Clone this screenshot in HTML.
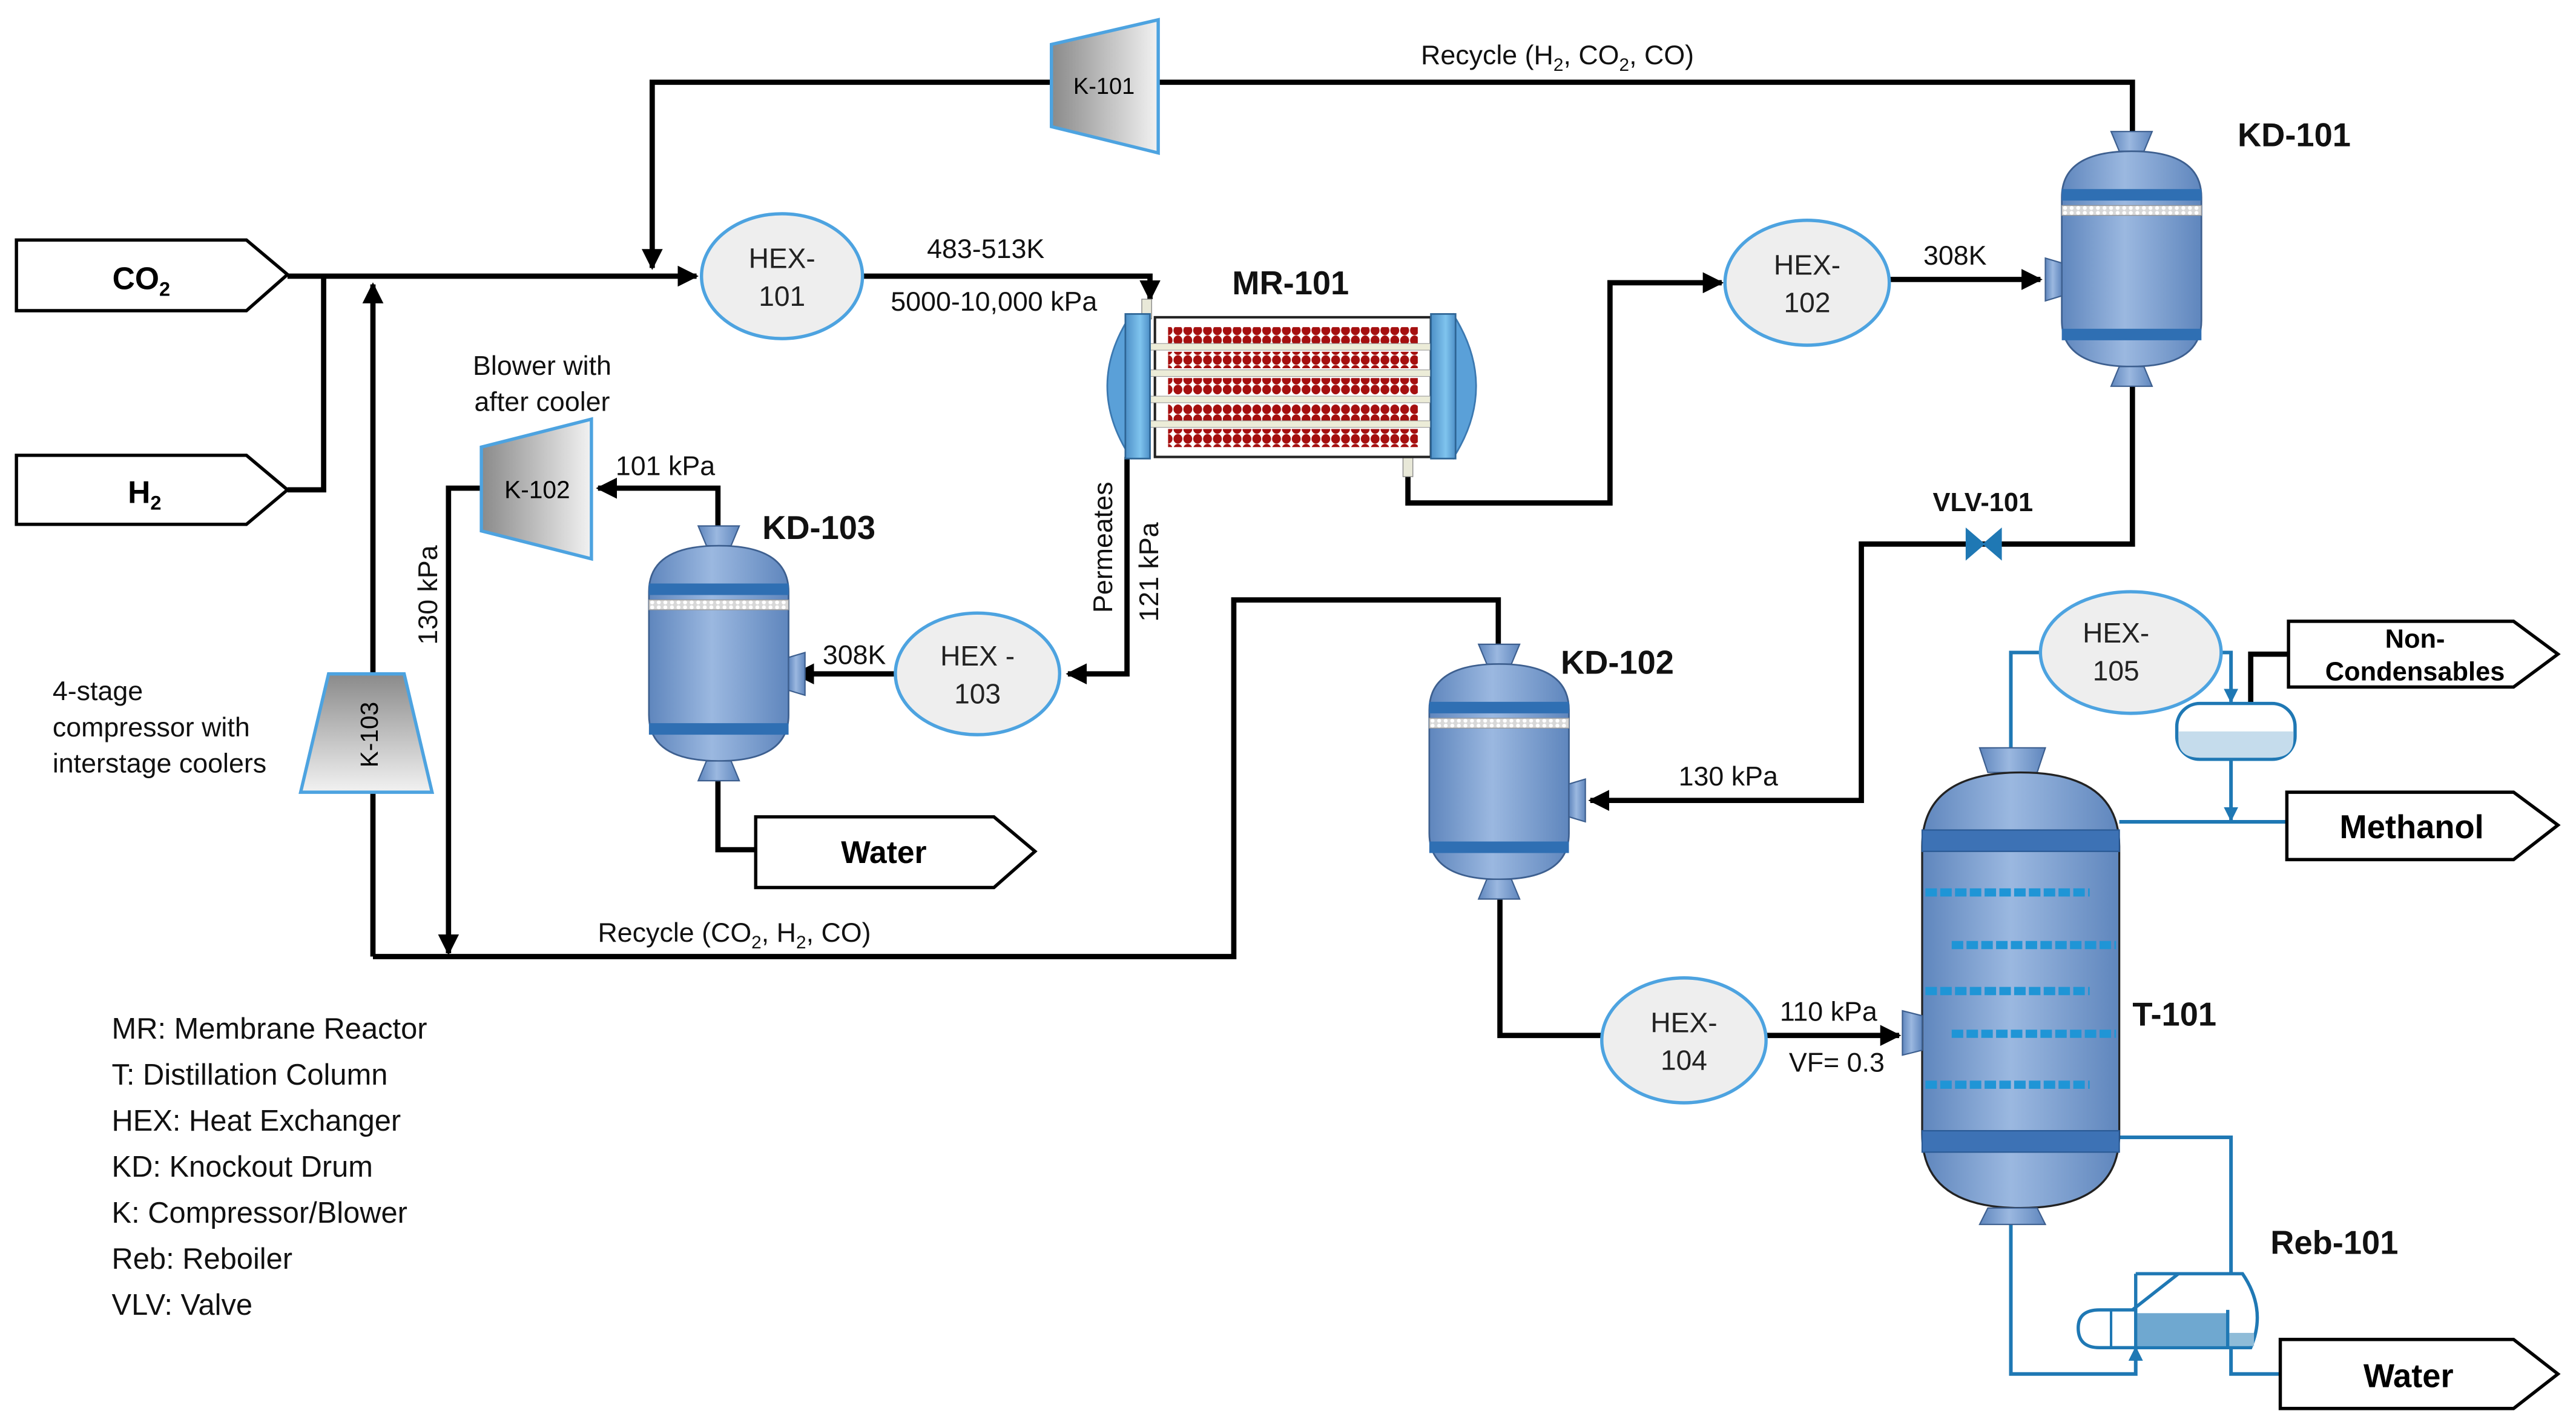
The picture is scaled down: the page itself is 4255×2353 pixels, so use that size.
<!DOCTYPE html>
<html><head><meta charset="utf-8"><style>
html,body{margin:0;padding:0;background:#fff;}
svg{display:block;}
text{font-family:"Liberation Sans",Arial,sans-serif;}
</style></head><body>
<svg width="4255" height="2353" viewBox="0 0 1568 867" xmlns="http://www.w3.org/2000/svg">
<defs>
<linearGradient id="vg" x1="0" x2="1" y1="0" y2="0">
<stop offset="0" stop-color="#5f86bd"/><stop offset="0.45" stop-color="#9bb8e0"/><stop offset="1" stop-color="#5f86bd"/>
</linearGradient>
<linearGradient id="kg" x1="0" x2="1" y1="0" y2="0">
<stop offset="0" stop-color="#8a8a8a"/><stop offset="1" stop-color="#f2f2f2"/>
</linearGradient>
<linearGradient id="kgv" x1="0" x2="0" y1="0" y2="1">
<stop offset="0" stop-color="#8a8a8a"/><stop offset="1" stop-color="#f2f2f2"/>
</linearGradient>
<linearGradient id="capg" x1="0" x2="1">
<stop offset="0" stop-color="#4d8fc7"/><stop offset="0.6" stop-color="#7fc4ee"/><stop offset="1" stop-color="#4d8fc7"/>
</linearGradient>
<pattern id="dots" x="0" y="0" width="6" height="6" patternUnits="userSpaceOnUse">
<rect width="6" height="6" fill="#fff"/><ellipse cx="3" cy="3" rx="2.7" ry="2.9" fill="#a50f0f"/>
</pattern>
<pattern id="mesh" x="0" y="0" width="4" height="3" patternUnits="userSpaceOnUse">
<rect width="4" height="3" fill="#d8d8d8"/><circle cx="2" cy="1.5" r="1.2" fill="#fff"/>
</pattern>
<marker id="ar" markerWidth="4" markerHeight="4" refX="3.6" refY="2" orient="auto" markerUnits="strokeWidth">
<path d="M0,0 L4,2 L0,4 Z" fill="#000"/></marker>
<marker id="ab" markerWidth="4" markerHeight="4" refX="3.6" refY="2" orient="auto" markerUnits="strokeWidth">
<path d="M0,0 L4,2 L0,4 Z" fill="#1f78b4"/></marker>
<g id="kd">
<path d="M30,0 L55,0 L50,12 L35,12 Z" fill="url(#vg)" stroke="#3d5f8f" stroke-width="0.8"/>
<path d="M0,40 Q0,12 42.5,12 Q85,12 85,40 L85,115 Q85,143 42.5,143 Q0,143 0,115 Z" fill="url(#vg)" stroke="#3d5f8f" stroke-width="1"/>
<rect x="0" y="35" width="85" height="7" fill="#2f6fb3"/>
<rect x="0" y="45" width="85" height="6" fill="url(#mesh)" stroke="#999" stroke-width="0.5"/>
<rect x="0" y="120" width="85" height="7" fill="#2f6fb3"/>
<path d="M30,155 L55,155 L50,143 L35,143 Z" fill="url(#vg)" stroke="#3d5f8f" stroke-width="0.8"/>
</g>
</defs>

<g fill="none" stroke="#000" stroke-width="3.2">
<path d="M175,168 L424,168" marker-end="url(#ar)"/>
<path d="M175,298 L197,298 L197,168"/>
<path d="M227,582 L227,173" marker-end="url(#ar)"/>
<path d="M1298,82 L1298,50 L705,50"/>
<path d="M640,50 L397,50 L397,163" marker-end="url(#ar)"/>
<path d="M525,168 L700,168 L700,182" marker-end="url(#ar)"/>
<path d="M857,290 L857,306 L980,306 L980,172 L1048,172" marker-end="url(#ar)"/>
<path d="M1150,170 L1242,170" marker-end="url(#ar)"/>
<path d="M1298,235 L1298,331 L1133,331 L1133,487 L968,487" marker-end="url(#ar)"/>
<path d="M227,582 L751,582 L751,365 L912,365 L912,392"/>
<path d="M913,547 L913,630 L975,630"/>
<path d="M1075,630 L1156,630" marker-end="url(#ar)"/>
<path d="M686,278 L686,410 L650,410" marker-end="url(#ar)"/>
<path d="M545,410 L484,410" marker-end="url(#ar)"/>
<path d="M437,320 L437,297 L364,297" marker-end="url(#ar)"/>
<path d="M293,297 L273,297 L273,580" marker-end="url(#ar)"/>
<path d="M437,475 L437,517 L460,517"/>
<path d="M1370,428 L1370,398 L1393,398"/>
</g>

<g fill="none" stroke="#1f78b4" stroke-width="2.2">
<path d="M1242,397 L1224,397 L1224,455"/>
<path d="M1352,397 L1358,397 L1358,427" marker-end="url(#ab)"/>
<path d="M1358,462 L1358,499" marker-end="url(#ab)"/>
<path d="M1290,500 L1392,500"/>
<path d="M1224,745 L1224,836 L1300,836 L1300,820" marker-end="url(#ab)"/>
<path d="M1290,692 L1358,692 L1358,775"/>
<path d="M1358,820 L1358,836 L1388,836"/>
</g>

<g fill="#fff" stroke="#000" stroke-width="2">
<path d="M10,146 L150,146 L175,167 L150,189 L10,189 Z"/>
<path d="M10,277 L150,277 L175,298 L150,319 L10,319 Z"/>
<path d="M460,497 L605,497 L630,518 L605,540 L460,540 Z"/>
<path d="M1393,378 L1530,378 L1557,398 L1530,418 L1393,418 Z"/>
<path d="M1392,482 L1530,482 L1557,502 L1530,523 L1392,523 Z"/>
<path d="M1388,815 L1530,815 L1557,836 L1530,857 L1388,857 Z"/>
</g>
<text x="86" y="176" font-size="19" font-weight="bold" text-anchor="middle">CO<tspan font-size="12" dy="4">2</tspan></text>
<text x="88" y="306" font-size="19" font-weight="bold" text-anchor="middle">H<tspan font-size="12" dy="4">2</tspan></text>
<text x="538" y="525" font-size="19" font-weight="bold" text-anchor="middle">Water</text>
<text x="1470" y="394" font-size="16" font-weight="bold" text-anchor="middle">Non-</text>
<text x="1470" y="414" font-size="16" font-weight="bold" text-anchor="middle">Condensables</text>
<text x="1468" y="510" font-size="20" font-weight="bold" text-anchor="middle">Methanol</text>
<text x="1466" y="844" font-size="20" font-weight="bold" text-anchor="middle">Water</text>

<g fill="#eeeeee" stroke="#4da3e0" stroke-width="2">
<ellipse cx="476" cy="168" rx="49" ry="38"/>
<ellipse cx="1100" cy="172" rx="50" ry="38"/>
<ellipse cx="595" cy="410" rx="50" ry="37"/>
<ellipse cx="1025" cy="633" rx="50" ry="38"/>
<ellipse cx="1297" cy="397" rx="55" ry="37"/>
</g>
<g font-size="17" text-anchor="middle" fill="#222">
<text x="476" y="163">HEX-</text><text x="476" y="186">101</text>
<text x="1100" y="167">HEX-</text><text x="1100" y="190">102</text>
<text x="595" y="405">HEX -</text><text x="595" y="428">103</text>
<text x="1025" y="628">HEX-</text><text x="1025" y="651">104</text>
<text x="1288" y="391">HEX-</text><text x="1288" y="414">105</text>
</g>

<path d="M640,27 L705,12 L705,93 L640,77 Z" fill="url(#kg)" stroke="#4da3e0" stroke-width="2"/>
<text x="672" y="57" font-size="14" text-anchor="middle">K-101</text>
<path d="M293,272 L360,255 L360,340 L293,323 Z" fill="url(#kg)" stroke="#4da3e0" stroke-width="2"/>
<text x="327" y="303" font-size="15" text-anchor="middle">K-102</text>
<path d="M200,410 L246,410 L263,482 L183,482 Z" fill="url(#kgv)" stroke="#4da3e0" stroke-width="2"/>
<text transform="translate(230,447) rotate(-90)" font-size="15" text-anchor="middle">K-103</text>

<use href="#kd" x="1255" y="80"/>
<path d="M1255,160 L1245,157 L1245,183 L1255,180 Z" fill="url(#vg)" stroke="#3d5f8f" stroke-width="0.8"/>
<use href="#kd" x="395" y="320"/>
<path d="M480,400 L490,397 L490,423 L480,420 Z" fill="url(#vg)" stroke="#3d5f8f" stroke-width="0.8"/>
<use href="#kd" x="870" y="392"/>
<path d="M955,477 L965,474 L965,500 L955,497 Z" fill="url(#vg)" stroke="#3d5f8f" stroke-width="0.8"/>

<g>
<rect x="695" y="182" width="6" height="12" fill="#e8e8d8" stroke="#888" stroke-width="0.5"/>
<rect x="854" y="277" width="6" height="13" fill="#e8e8d8" stroke="#888" stroke-width="0.5"/>
<rect x="703" y="193" width="168" height="85" fill="#fff" stroke="#222" stroke-width="1.5"/>
<rect x="711" y="199" width="152" height="10" fill="url(#dots)"/>
<rect x="711" y="214" width="152" height="10" fill="url(#dots)"/>
<rect x="711" y="230" width="152" height="10" fill="url(#dots)"/>
<rect x="711" y="246" width="152" height="10" fill="url(#dots)"/>
<rect x="711" y="261" width="152" height="11" fill="url(#dots)"/>
<g fill="#ececd8" stroke="#999" stroke-width="0.4">
<rect x="696" y="209" width="182" height="4"/><rect x="696" y="225" width="182" height="4"/>
<rect x="696" y="241" width="182" height="4"/><rect x="696" y="256" width="182" height="4"/>
</g>
<path d="M688,192 Q660,235 688,278 Z" fill="#5aa0d8" stroke="#3b78b0" stroke-width="1"/>
<rect x="685" y="191" width="15" height="88" fill="url(#capg)" stroke="#2e6595" stroke-width="1"/>
<path d="M885,192 Q912,235 885,278 Z" fill="#5aa0d8" stroke="#3b78b0" stroke-width="1"/>
<rect x="871" y="191" width="15" height="88" fill="url(#capg)" stroke="#2e6595" stroke-width="1"/>
</g>

<path d="M1197,322 L1218,340 L1218,322 L1197,340 Z" fill="#1f78b4" stroke="#1f78b4" stroke-width="1"/>

<path d="M1205,455 L1245,455 L1240,470 L1210,470 Z" fill="url(#vg)" stroke="#3d5f8f" stroke-width="0.8"/>
<path d="M1170,515 Q1170,470 1230,470 Q1290,470 1290,515 L1290,690 Q1290,735 1230,735 Q1170,735 1170,690 Z" fill="url(#vg)" stroke="#222" stroke-width="1.2"/>
<rect x="1170" y="505" width="120" height="13" fill="#3d72b5" stroke="#2a5a95" stroke-width="0.8"/>
<rect x="1170" y="688" width="120" height="13" fill="#3d72b5" stroke="#2a5a95" stroke-width="0.8"/>
<g stroke="#1f95d6" stroke-width="5" stroke-dasharray="7,2">
<line x1="1172" y1="543" x2="1272" y2="543"/><line x1="1188" y1="575" x2="1288" y2="575"/>
<line x1="1172" y1="603" x2="1272" y2="603"/><line x1="1188" y1="629" x2="1288" y2="629"/>
<line x1="1172" y1="660" x2="1272" y2="660"/>
</g>
<path d="M1205,745 L1245,745 L1240,735 L1210,735 Z" fill="url(#vg)" stroke="#3d5f8f" stroke-width="0.8"/>
<path d="M1170,618 L1158,615 L1158,642 L1170,639 Z" fill="url(#vg)" stroke="#3d5f8f" stroke-width="0.8"/>

<rect x="1325" y="428" width="72" height="34" rx="14" fill="#fff" stroke="#1f78b4" stroke-width="2"/>
<path d="M1326,445 L1396,445 L1396,450 Q1396,461 1383,461 L1339,461 Q1326,461 1326,450 Z" fill="#c5dcec"/>

<path d="M1300,775 L1365,775 Q1380,797 1370,820 L1278,820 Q1265,820 1265,808 Q1265,797 1278,797 L1300,797 L1300,820" fill="none" stroke="#1f78b4" stroke-width="2"/>
<path d="M1300,797 L1300,775 M1298,797 L1326,775" fill="none" stroke="#1f78b4" stroke-width="2"/>
<rect x="1301" y="799" width="54" height="20" fill="#6fa8d0"/>
<rect x="1357" y="811" width="15" height="8" fill="#8fbcd8"/>
<line x1="1356" y1="797" x2="1356" y2="820" stroke="#1f78b4" stroke-width="2"/>
<line x1="1285" y1="797" x2="1285" y2="820" stroke="#1f78b4" stroke-width="1.5"/>

<g font-size="16.5" fill="#111">
<text x="948" y="39" text-anchor="middle">Recycle (H<tspan font-size="11" dy="4">2</tspan><tspan dy="-4">, CO</tspan><tspan font-size="11" dy="4">2</tspan><tspan dy="-4">, CO)</tspan></text>
<text x="447" y="573" text-anchor="middle">Recycle (CO<tspan font-size="11" dy="4">2</tspan><tspan dy="-4">, H</tspan><tspan font-size="11" dy="4">2</tspan><tspan dy="-4">, CO)</tspan></text>
<text x="600" y="157" text-anchor="middle">483-513K</text>
<text x="605" y="189" text-anchor="middle">5000-10,000 kPa</text>
<text x="1190" y="161" text-anchor="middle">308K</text>
<text x="520" y="404" text-anchor="middle">308K</text>
<text x="405" y="289" text-anchor="middle">101 kPa</text>
<text x="1052" y="478" text-anchor="middle">130 kPa</text>
<text x="1113" y="621" text-anchor="middle">110 kPa</text>
<text x="1118" y="652" text-anchor="middle">VF= 0.3</text>
<text x="330" y="228" text-anchor="middle">Blower with</text>
<text x="330" y="250" text-anchor="middle">after cooler</text>
<text x="32" y="426">4-stage</text>
<text x="32" y="448">compressor with</text>
<text x="32" y="470">interstage coolers</text>
<text transform="translate(266,362) rotate(-90)" text-anchor="middle">130 kPa</text>
<text transform="translate(677,333) rotate(-90)" text-anchor="middle">Permeates</text>
<text transform="translate(705,348) rotate(-90)" text-anchor="middle">121 kPa</text>
</g>
<g font-size="20" font-weight="bold" fill="#111">
<text x="750" y="179">MR-101</text>
<text x="1362" y="89">KD-101</text>
<text x="464" y="328">KD-103</text>
<text x="950" y="410">KD-102</text>
<text x="1298" y="624">T-101</text>
<text x="1382" y="763">Reb-101</text>
<text x="1207" y="311" font-size="16" text-anchor="middle">VLV-101</text>
</g>
<g font-size="18" fill="#111">
<text x="68" y="632">MR: Membrane Reactor</text>
<text x="68" y="660">T: Distillation Column</text>
<text x="68" y="688">HEX: Heat Exchanger</text>
<text x="68" y="716">KD: Knockout Drum</text>
<text x="68" y="744">K: Compressor/Blower</text>
<text x="68" y="772">Reb: Reboiler</text>
<text x="68" y="800">VLV: Valve</text>
</g>
</svg>
</body></html>
